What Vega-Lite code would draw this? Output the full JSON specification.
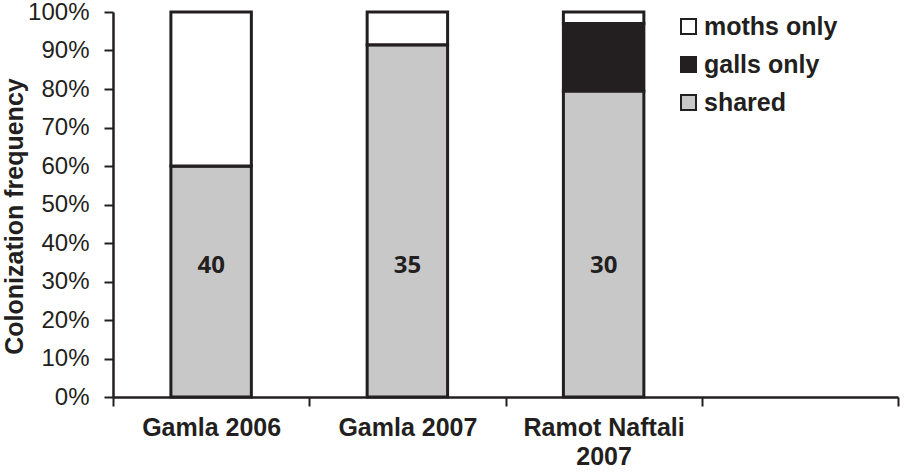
{
  "$schema": "https://vega.github.io/schema/vega-lite/v6.json",
  "width": 785,
  "height": 385,
  "autosize": {"type": "none"},
  "padding": {"left": 113, "top": 12, "right": 6, "bottom": 75},
  "background": "white",
  "config": {
    "view": {"stroke": null},
    "font": "Liberation Sans"
  },
  "datasets": {
    "bars": [
      {"site": "Gamla 2006", "type": "shared", "value": 0.60},
      {"site": "Gamla 2006", "type": "galls only", "value": 0.0},
      {"site": "Gamla 2006", "type": "moths only", "value": 0.40},
      {"site": "Gamla 2007", "type": "shared", "value": 0.915},
      {"site": "Gamla 2007", "type": "galls only", "value": 0.0},
      {"site": "Gamla 2007", "type": "moths only", "value": 0.085},
      {"site": "Ramot Naftali 2007", "type": "shared", "value": 0.795},
      {"site": "Ramot Naftali 2007", "type": "galls only", "value": 0.175},
      {"site": "Ramot Naftali 2007", "type": "moths only", "value": 0.03}
    ],
    "labels": [
      {"site": "Gamla 2006", "n": "40", "value": 0.34},
      {"site": "Gamla 2007", "n": "35", "value": 0.34},
      {"site": "Ramot Naftali 2007", "n": "30", "value": 0.34}
    ]
  },
  "encoding": {
    "x": {
      "field": "site",
      "type": "nominal",
      "scale": {
        "domain": ["Gamla 2006", "Gamla 2007", "Ramot Naftali 2007", "blank"],
        "paddingInner": 0,
        "paddingOuter": 0
      },
      "axis": {
        "title": null,
        "labelAngle": 0,
        "labelExpr": "datum.label == 'blank' ? '' : (datum.label == 'Ramot Naftali 2007' ? ['Ramot Naftali', '2007'] : datum.label)",
        "labelFont": "Liberation Sans",
        "labelFontWeight": "bold",
        "labelFontSize": 25,
        "labelColor": "#231f20",
        "labelPadding": 9,
        "labelLineHeight": 29,
        "labelOverlap": false,
        "tickBand": "extent",
        "tickColor": "#231f20",
        "tickWidth": 2,
        "tickSize": 9,
        "domainColor": "#231f20",
        "domainWidth": 2.5,
        "grid": false
      }
    },
    "y": {
      "field": "value",
      "type": "quantitative",
      "scale": {"domain": [0, 1], "nice": false},
      "axis": {
        "title": "Colonization frequency",
        "titleFont": "Liberation Sans",
        "titleFontWeight": "bold",
        "titleFontSize": 25,
        "titleColor": "#231f20",
        "titleAngle": 270,
        "titleX": -86,
        "titleY": 204,
        "titleAlign": "center",
        "titleBaseline": "bottom",
        "format": ".0%",
        "values": [0, 0.1, 0.2, 0.3, 0.4, 0.5, 0.6, 0.7, 0.8, 0.9, 1.0],
        "labelFontSize": 24,
        "labelColor": "#231f20",
        "labelPadding": 15,
        "labelOverlap": false,
        "labelFlush": false,
        "tickSize": 9,
        "tickWidth": 2,
        "tickColor": "#231f20",
        "domainColor": "#231f20",
        "domainWidth": 2.5,
        "grid": false
      }
    }
  },
  "layer": [
    {
      "data": {"name": "bars"},
      "transform": [
        {"calculate": "indexof(['shared', 'galls only', 'moths only'], datum.type)", "as": "stackOrder"}
      ],
      "mark": {"type": "bar", "width": {"band": 0.41}, "stroke": "#231f20", "strokeWidth": 3},
      "encoding": {
        "color": {
          "field": "type",
          "type": "nominal",
          "scale": {
            "domain": ["moths only", "galls only", "shared"],
            "range": ["#ffffff", "#231f20", "#c8c8c8"]
          },
          "legend": {
            "title": null,
            "orient": "none",
            "legendX": 563,
            "legendY": 2,
            "symbolType": "square",
            "symbolSize": 225,
            "symbolStrokeColor": "#231f20",
            "symbolStrokeWidth": 2,
            "labelFont": "Liberation Sans",
            "labelFontWeight": "bold",
            "labelFontSize": 25,
            "labelColor": "#231f20",
            "labelOffset": 3,
            "rowPadding": 12
          }
        },
        "order": {"field": "stackOrder", "type": "quantitative"}
      }
    },
    {
      "data": {"name": "labels"},
      "mark": {"type": "text", "font": "Open Sans", "fontWeight": "bold", "fontSize": 24, "color": "#231f20", "baseline": "middle"},
      "encoding": {
        "text": {"field": "n"}
      }
    }
  ]
}
